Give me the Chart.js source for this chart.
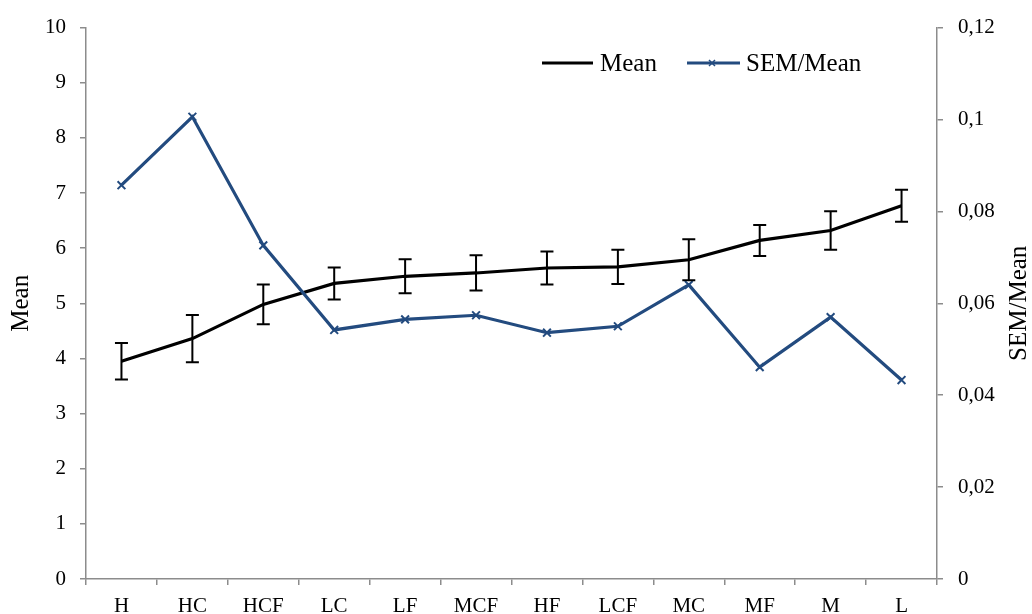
<!DOCTYPE html>
<html>
<head>
<meta charset="utf-8">
<script src="https://cdn.jsdelivr.net/npm/chart.js@4"></script>
<style>
  body { margin: 0; background: #fff; }
  #wrap { width: 1032px; height: 614px; }
</style>
</head>
<body>
<div id="wrap"><canvas id="chart" width="1032" height="614"></canvas></div>
<script>
// ---- Data ----
const categories = ["H", "HC", "HCF", "LC", "LF", "MCF", "HF", "LCF", "MC", "MF", "M", "L"];
const meanValues = [3.95, 4.36, 4.98, 5.36, 5.49, 5.55, 5.64, 5.66, 5.79, 6.14, 6.32, 6.77];
const meanErrors = [0.33, 0.43, 0.36, 0.29, 0.31, 0.32, 0.30, 0.31, 0.37, 0.28, 0.35, 0.29];
const semRatio = [0.0857, 0.1006, 0.0726, 0.0542, 0.0565, 0.0574, 0.0536, 0.0550, 0.0640, 0.0461, 0.0570, 0.0433];

const FONT = "'Liberation Serif', 'Times New Roman', serif";
const AXIS_GREY = "#8c8c8c";
const BLUE = "#234b7f";

// ---- Error bars on the Mean series ----
const errorBars = {
  id: "errorBars",
  afterDatasetsDraw(chart) {
    const { ctx, scales } = chart;
    const x = scales.x, y = scales.y;
    ctx.save();
    ctx.strokeStyle = "#000";
    ctx.lineWidth = 2;
    meanValues.forEach((v, i) => {
      const px = x.getPixelForValue(i);
      const top = y.getPixelForValue(v + meanErrors[i]);
      const bot = y.getPixelForValue(v - meanErrors[i]);
      ctx.beginPath();
      ctx.moveTo(px, top); ctx.lineTo(px, bot);
      ctx.moveTo(px - 6.5, top); ctx.lineTo(px + 6.5, top);
      ctx.moveTo(px - 6.5, bot); ctx.lineTo(px + 6.5, bot);
      ctx.stroke();
    });
    ctx.restore();
  }
};

// ---- Legend and axis titles ----
const extras = {
  id: "extras",
  afterDraw(chart) {
    const { ctx, chartArea } = chart;
    ctx.save();
    ctx.font = "25px " + FONT;
    ctx.fillStyle = "#000";
    ctx.textBaseline = "middle";

    // legend
    const ly = 63;
    ctx.lineWidth = 3;
    ctx.strokeStyle = "#000";
    ctx.beginPath(); ctx.moveTo(542, ly); ctx.lineTo(593, ly); ctx.stroke();
    ctx.textAlign = "left";
    ctx.fillText("Mean", 600, ly + 1);

    ctx.strokeStyle = BLUE;
    ctx.beginPath(); ctx.moveTo(687, ly); ctx.lineTo(740, ly); ctx.stroke();
    ctx.lineWidth = 1.5;
    ctx.beginPath();
    ctx.moveTo(709, ly - 3); ctx.lineTo(715, ly + 3);
    ctx.moveTo(715, ly - 3); ctx.lineTo(709, ly + 3);
    ctx.stroke();
    ctx.fillText("SEM/Mean", 746, ly + 1);

    // axis titles
    const cy = (chartArea.top + chartArea.bottom) / 2;
    ctx.textAlign = "center";
    ctx.translate(21, cy);
    ctx.rotate(-Math.PI / 2);
    ctx.fillText("Mean", 0, 0);
    ctx.setTransform(1, 0, 0, 1, 0, 0);
    ctx.translate(1019, cy);
    ctx.rotate(-Math.PI / 2);
    ctx.fillText("SEM/Mean", 0, 0);
    ctx.restore();
  }
};

const tickFont = { family: FONT, size: 21 };

new Chart(document.getElementById("chart"), {
  type: "line",
  data: {
    labels: categories,
    datasets: [
      {
        label: "Mean",
        data: meanValues,
        yAxisID: "y",
        borderColor: "#000",
        borderWidth: 3.2,
        pointRadius: 0,
        tension: 0,
        order: 2
      },
      {
        label: "SEM/Mean",
        data: semRatio,
        yAxisID: "y2",
        borderColor: BLUE,
        borderWidth: 3.2,
        pointStyle: "crossRot",
        pointRadius: 5.5,
        pointBorderWidth: 2,
        pointBorderColor: BLUE,
        tension: 0,
        order: 1
      }
    ]
  },
  options: {
    responsive: false,
    animation: false,
    layout: { padding: { top: 25, left: 0, right: 0, bottom: 0 } },
    plugins: { legend: { display: false }, tooltip: { enabled: false } },
    scales: {
      x: {
        offset: true,
        afterFit: s => { s.height = 35; },
        border: { color: AXIS_GREY, width: 1.5 },
        grid: { offset: true, drawOnChartArea: false, drawTicks: true, tickLength: 6, color: AXIS_GREY, lineWidth: 1.5 },
        ticks: { color: "#000", font: tickFont, padding: 9, maxRotation: 0 }
      },
      y: {
        position: "left",
        min: 0, max: 10,
        afterFit: s => { s.width = 86; },
        border: { color: AXIS_GREY, width: 1.5 },
        grid: { drawOnChartArea: false, drawTicks: true, tickLength: 6, color: AXIS_GREY, lineWidth: 1.5 },
        ticks: { stepSize: 1, color: "#000", font: tickFont, padding: 14 }
      },
      y2: {
        position: "right",
        min: 0, max: 0.12,
        afterFit: s => { s.width = 95; },
        border: { color: AXIS_GREY, width: 1.5 },
        grid: { drawOnChartArea: false, drawTicks: true, tickLength: 6, color: AXIS_GREY, lineWidth: 1.5 },
        ticks: {
          stepSize: 0.02, color: "#000", font: tickFont, padding: 15,
          callback: v => String(Math.round(v * 100) / 100).replace(".", ",")
        }
      }
    }
  },
  plugins: [errorBars, extras]
});
</script>
</body>
</html>
